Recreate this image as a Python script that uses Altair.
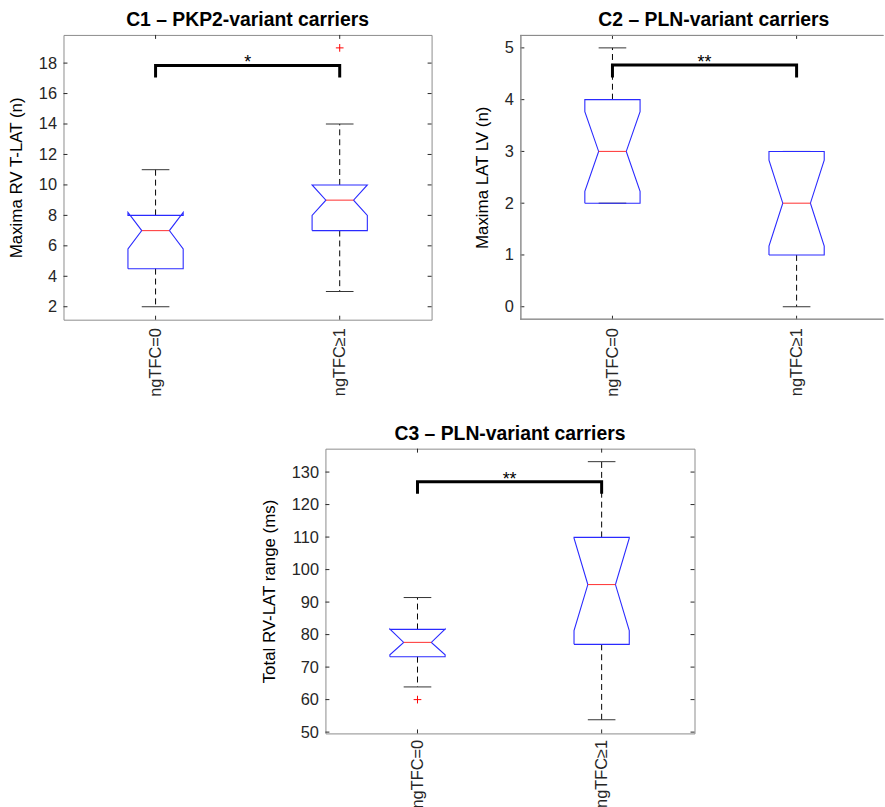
import altair as alt
import pandas as pd

FONT = "Liberation Sans"

groups = ["ngTFC=0", "ngTFC≥1"]
positions = [1, 2]

titles = ["C1 – PKP2-variant carriers", "C2 – PLN-variant carriers", "C3 – PLN-variant carriers"]
ylabels = ["Maxima RV T-LAT (n)", "Maxima LAT LV (n)", "Total RV-LAT range (ms)"]

# per panel: [ngTFC=0, ngTFC>=1]
whisker_lo = [[2, 3], [2, 0], [63.9, 53.8]]
q1 = [[4.5, 7], [2, 1], [73.2, 77.0]]
median = [[7, 9], [3, 2], [77.6, 95.4]]
q3 = [[8, 10], [4, 3], [81.6, 109.9]]
whisker_hi = [[11, 14], [5, 3], [91.4, 133.2]]
notch_lo = [[5.8, 8.0], [2.23, 1.17], [73.8, 81.2]]
notch_hi = [[8.2, 10.0], [3.77, 2.83], [81.7, 109.7]]
outliers = [[[], [19]], [[], []], [[60], []]]

y_ticks = [[2, 4, 6, 8, 10, 12, 14, 16, 18], [0, 1, 2, 3, 4, 5],
           [50, 60, 70, 80, 90, 100, 110, 120, 130]]
y_domain = [[1.15, 19.85], [-0.25, 5.25], [49.6, 137.2]]

sig_labels = ["*", "**", "**"]
bracket_top = [17.85, 4.67, 127.0]
bracket_end = [17.05, 4.43, 123.3]

BOX_W = 0.15
CAP_W = 0.075
TICK = 4
TICK_FS = 16.5
LABEL_FS = 17
TITLE_FS = 19.5
PX_PER_UNIT = 185.6   # horizontal scale of every panel (x domain 0.5 .. 2.5 on a full panel)
FRAME = "#8c8c8c"


def make_panel(i, width, height, title_dx=0, clipped_right=False, label_pad=8):
    x_max = 0.5 + width / PX_PER_UNIT
    xs = alt.Scale(domain=[0.5, x_max], nice=False, zero=False)
    ys = alt.Scale(domain=y_domain[i], nice=False, zero=False)
    label_expr = f"datum.value == {positions[0]} ? '{groups[0]}' : '{groups[1]}'"
    x_axis = alt.Axis(values=positions, labelExpr=label_expr, labelAngle=-90,
                      labelAlign="right", labelBaseline="middle", labelPadding=label_pad,
                      ticks=False, domain=False, grid=False, labelFont=FONT,
                      labelFontSize=TICK_FS, labelColor="#262626", labelOverlap=False)
    y_axis = alt.Axis(values=y_ticks[i], title=ylabels[i], ticks=False, domain=False,
                      grid=False, labelFont=FONT, labelFontSize=TICK_FS, labelColor="#262626",
                      labelPadding=7, titlePadding=13, titleFont=FONT, titleFontSize=LABEL_FS,
                      titleFontWeight="normal", titleColor="black")
    X = alt.X("x:Q", scale=xs, axis=x_axis, title=None)
    Y = alt.Y("y:Q", scale=ys, axis=y_axis)

    # whiskers
    wdf = pd.DataFrame({"x": positions * 2, "y": q3[i] + q1[i],
                        "y2": whisker_hi[i] + whisker_lo[i]})
    whisk = alt.Chart(wdf).mark_rule(color="black", strokeDash=[6, 4], strokeWidth=1).encode(
        x=X, y=Y, y2="y2:Q")

    # caps
    cdf = pd.DataFrame({"x": [p - CAP_W for p in positions] * 2,
                        "x2": [p + CAP_W for p in positions] * 2,
                        "y": whisker_hi[i] + whisker_lo[i]})
    caps = alt.Chart(cdf).mark_rule(color="#333333", strokeWidth=1).encode(x=X, x2="x2:Q", y=Y)

    # notched boxes
    rows = []
    for g, p in enumerate(positions):
        pts = [(p - BOX_W, q1[i][g]), (p - BOX_W, notch_lo[i][g]), (p - BOX_W / 2, median[i][g]),
               (p - BOX_W, notch_hi[i][g]), (p - BOX_W, q3[i][g]), (p + BOX_W, q3[i][g]),
               (p + BOX_W, notch_hi[i][g]), (p + BOX_W / 2, median[i][g]),
               (p + BOX_W, notch_lo[i][g]), (p + BOX_W, q1[i][g]), (p - BOX_W, q1[i][g])]
        for o, (px, py) in enumerate(pts):
            rows.append({"x": px, "y": py, "g": g, "o": o})
    bdf = pd.DataFrame(rows)
    box = alt.Chart(bdf).mark_line(color="#2a2aff", strokeWidth=1.1).encode(
        x=X, y=Y, detail="g:N", order="o:Q")

    # median
    mdf = pd.DataFrame({"x": [p - BOX_W / 2 for p in positions],
                        "x2": [p + BOX_W / 2 for p in positions], "y": median[i]})
    med = alt.Chart(mdf).mark_rule(color="#ff4040", strokeWidth=1.1).encode(x=X, x2="x2:Q", y=Y)

    # outliers
    ox, oy = [], []
    for g, p in enumerate(positions):
        for v in outliers[i][g]:
            ox.append(p)
            oy.append(v)
    odf = pd.DataFrame({"x": ox, "y": oy}, columns=["x", "y"])
    outl = alt.Chart(odf).mark_point(shape="M-1,0L1,0M0,-1L0,1", size=60, color="red",
                                     filled=False, strokeWidth=1, opacity=1).encode(x=X, y=Y)

    # significance bracket
    brdf = pd.DataFrame({"x": [positions[0], positions[0], positions[1], positions[1]],
                         "y": [bracket_end[i], bracket_top[i], bracket_top[i], bracket_end[i]],
                         "o": [0, 1, 2, 3]})
    bracket = alt.Chart(brdf).mark_line(color="black", strokeWidth=3, strokeJoin="miter",
                                        strokeCap="butt").encode(x=X, y=Y, order="o:Q")
    sdf = pd.DataFrame({"x": [sum(positions) / 2], "y": [bracket_top[i]], "t": [sig_labels[i]]})
    stars = alt.Chart(sdf).mark_text(font=FONT, fontSize=18, baseline="alphabetic", dy=3,
                                     color="black").encode(x=X, y=Y, text="t:N")

    # inward tick marks
    tdf = pd.DataFrame({"y": y_ticks[i]})
    layers = [whisk, caps, box, med, outl, bracket, stars]
    layers.append(alt.Chart(tdf).mark_rule(color="#262626").encode(
        y=Y, x=alt.value(0), x2=alt.value(TICK)))
    if not clipped_right:
        layers.append(alt.Chart(tdf).mark_rule(color="#262626").encode(
            y=Y, x=alt.value(width - TICK), x2=alt.value(width)))
    xdf = pd.DataFrame({"x": positions})
    layers.append(alt.Chart(xdf).mark_rule(color="#262626").encode(
        x=X, y=alt.value(0), y2=alt.value(TICK)))
    layers.append(alt.Chart(xdf).mark_rule(color="#262626").encode(
        x=X, y=alt.value(height - TICK), y2=alt.value(height)))

    view = alt.ViewBackground(stroke=FRAME, strokeWidth=1)
    if clipped_right:
        # the right edge of this panel lies outside the picture: frame only top/left/bottom
        view = alt.ViewBackground(stroke="transparent")
        fr = alt.Chart(xdf).mark_rule(color=FRAME, strokeWidth=1)
        layers.append(fr.encode(x=alt.value(0), x2=alt.value(width), y=alt.value(0.5)))
        layers.append(fr.encode(x=alt.value(0), x2=alt.value(width), y=alt.value(height - 0.5)))
        layers.append(fr.encode(x=alt.value(0.5), y=alt.value(0), y2=alt.value(height)))

    return alt.layer(*layers).properties(
        width=width, height=height, view=view,
        title=alt.TitleParams(titles[i], font=FONT, fontSize=TITLE_FS, fontWeight="bold",
                              color="black", anchor="middle", offset=4, dx=title_dx))


c1 = make_panel(0, 371, 287)
c2 = make_panel(1, 366, 287, title_dx=12, clipped_right=True)
c3 = make_panel(2, 372, 287, label_pad=6)

spacer = alt.Chart(pd.DataFrame({"s": [0]})).mark_point(opacity=0).encode(
    x=alt.X("s:Q", axis=None), y=alt.Y("s:Q", axis=None)
).properties(width=196, height=10, view=alt.ViewBackground(stroke="transparent"))

top = alt.hconcat(c1, c2, spacing=40.5)
bottom = alt.hconcat(spacer, c3, spacing=0)

chart = alt.vconcat(top, bottom, spacing=26).properties(
    padding={"left": 7, "top": 6, "right": 0, "bottom": 0},
    background="white",
)

chart.save("out.html", embed_options={"renderer": "svg", "actions": False})
